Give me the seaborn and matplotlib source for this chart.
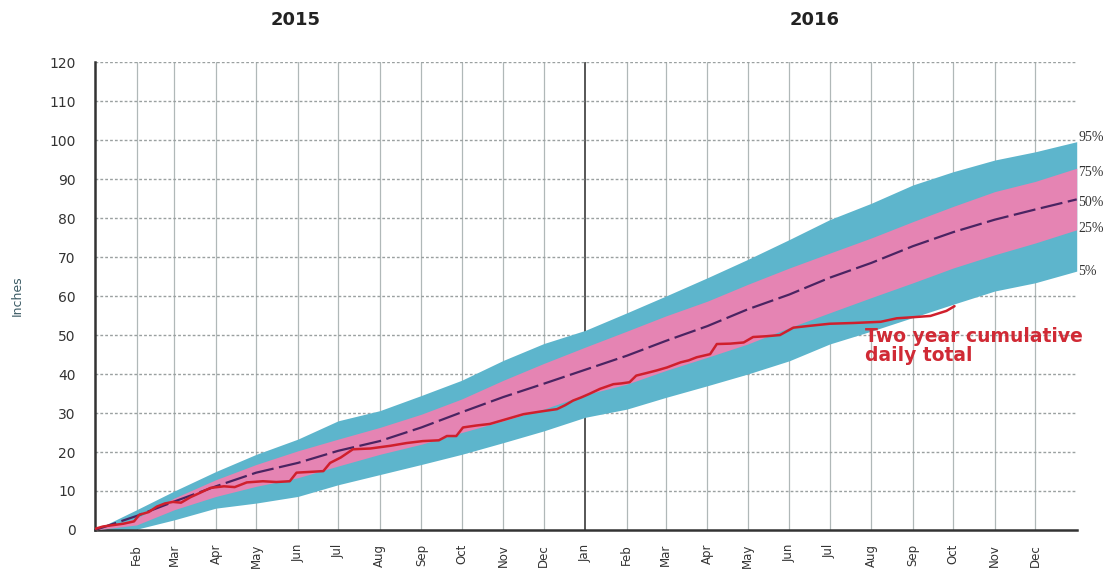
import numpy as np
import pandas as pd
import matplotlib
matplotlib.use('Agg')
import matplotlib.pyplot as plt
import seaborn as sns

# percentile envelopes, read at the first of each month (Jan 2015 .. Jan 2017)
band_dates = pd.date_range("2015-01-01", "2017-01-01", freq="MS")
p95 = [0, 5.2, 10, 15, 19.4, 23.3, 28, 30.6, 34.5, 38.4, 43.5, 47.8, 51.2,
       55.7, 60, 64.7, 69.4, 74.5, 79.6, 83.8, 88.5, 91.9, 94.9, 97, 99.6]
p75 = [0, 3, 8.2, 12.9, 16.8, 20.3, 23.3, 26.3, 29.7, 33.6, 38.4, 42.7, 46.9,
       51, 54.9, 58.7, 63, 67.2, 71, 74.9, 79.1, 83, 86.8, 89.4, 92.8]
p50 = [0, 3.6, 7.3, 11.2, 14.7, 17.2, 20.3, 22.8, 26.3, 30.2, 34.1, 37.5, 41.1,
       44.7, 48.5, 52.3, 56.6, 60.4, 64.7, 68.5, 72.8, 76.4, 79.6, 82.2, 84.8]
p25 = [0, 1.3, 5.2, 8.6, 11.2, 13.4, 16.4, 19.4, 22, 25, 28, 31, 34.7,
       37.4, 40.9, 44.3, 47.7, 51.9, 55.7, 59.6, 63.4, 67.2, 70.6, 73.6, 77]
p5 = [0, 0.2, 2.6, 5.6, 6.9, 8.6, 11.6, 14.2, 16.8, 19.4, 22.4, 25.4, 28.9,
      31, 34, 37, 40, 43.4, 47.7, 51, 54.5, 57.9, 61.3, 63.4, 66.4]
pct_labels = ["95%", "75%", "50%", "25%", "5%"]

# observed two-year cumulative total (days since 1 Jan 2015, inches)
obs_day = [0, 6, 21, 29, 33, 40, 46, 52, 58, 64, 71, 78, 86, 96, 104, 113, 125,
           135, 145, 150, 160, 170, 175, 183, 192, 205, 220, 232, 244, 256, 262,
           269, 274, 284, 294, 306, 319, 332, 344, 350, 356, 362, 368, 376, 386,
           392, 398, 403, 410, 418, 426, 436, 442, 448, 458, 463, 473, 483, 490,
           500, 510, 520, 533, 547, 565, 585, 597, 610, 622, 634, 640]
obs_inches = [0.3, 0.9, 1.6, 2.2, 3.9, 4.6, 6, 6.8, 7.2, 7.0, 8.4, 9.5, 10.8, 11.2,
              11.0, 12.2, 12.5, 12.3, 12.5, 14.7, 14.9, 15.1, 17.2, 18.6, 20.7,
              20.9, 21.6, 22.3, 22.8, 23.0, 24.1, 24.1, 26.3, 26.8, 27.2, 28.4,
              29.7, 30.4, 31, 32.0, 33.2, 34.0, 34.9, 36.2, 37.4, 37.6, 37.9, 39.6,
              40.2, 40.9, 41.7, 43, 43.5, 44.3, 45.1, 47.7, 47.8, 48.1, 49.5, 49.7,
              50, 51.9, 52.4, 52.9, 53.1, 53.4, 54.3, 54.6, 54.9, 56.2, 57.4]
years = ["2015", "2016"]

start = pd.Timestamp("2015-01-01")
obs = pd.DataFrame({"date": start + pd.to_timedelta(obs_day, unit="D"),
                    "inches": obs_inches})
bands = pd.DataFrame({"date": band_dates, "p95": p95, "p75": p75,
                      "p50": p50, "p25": p25, "p5": p5})

sns.set_style("white")
fig = plt.figure(figsize=(11.13, 5.74), dpi=100)
ax = fig.add_axes([0.0854, 0.0767, 0.882, 0.815])

blue = "#5db5cc"
pink = "#e584b3"
ax.fill_between(bands["date"], bands["p5"], bands["p95"], color=blue, lw=0, zorder=2)
ax.fill_between(bands["date"], bands["p25"], bands["p75"], color=pink, lw=0, zorder=3)
sns.lineplot(data=bands, x="date", y="p50", ax=ax, color="#4a2462", lw=1.6,
             zorder=4)
ax.lines[-1].set_dashes([10, 2.5])
sns.lineplot(data=obs, x="date", y="inches", ax=ax, color="#d01f2c", lw=1.8,
             zorder=5)

end = pd.Timestamp("2017-01-01")
ax.set_xlim(start, end)
ax.set_ylim(0, 120)

# month ticks
ticks = pd.date_range("2015-02-01", "2016-12-01", freq="MS")
ax.set_xticks(ticks)
ax.set_xticklabels([t.strftime("%b") for t in ticks], rotation=90,
                   fontsize=8.5, color="#333333")
ax.set_yticks(np.arange(0, 121, 10))
ax.set_yticklabels([str(v) for v in range(0, 121, 10)], fontsize=10,
                   color="#333333", fontweight="medium")
ax.tick_params(axis="y", length=8, width=1.6, color="#333333", pad=6)
ax.tick_params(axis="x", length=6, width=1.2, color="#333333", pad=4)

for t in ticks:
    if t == pd.Timestamp("2016-01-01"):
        ax.axvline(t, color="#3a3a3a", lw=1.2, zorder=1)
    else:
        ax.axvline(t, color="#b0b8b8", lw=0.9, zorder=1)
for v in range(10, 121, 10):
    ax.axhline(v, color="#9aa0a0", lw=1.0, ls=(0, (2, 1.5)), zorder=1)

sns.despine(ax=ax)
ax.spines["left"].set_linewidth(1.8)
ax.spines["bottom"].set_linewidth(1.8)
ax.spines["left"].set_color("#333333")
ax.spines["bottom"].set_color("#333333")

ax.set_xlabel("")
ax.set_ylabel("Inches", fontsize=9, color="#3d5c66", labelpad=18)

# percentile labels at the right edge
for lab, col, dy in zip(pct_labels, ["p95", "p75", "p50", "p25", "p5"],
                        [1.0, -1.0, -0.7, 0.4, 0]):
    ax.text(end + pd.Timedelta(days=1), bands[col].iloc[-1] + dy, lab,
            fontsize=10, family="Liberation Serif", color="#333333",
            va="center", ha="left", clip_on=False)

ax.text(pd.Timestamp("2016-07-27"), 52.0, "Two year cumulative\ndaily total",
        color="#d02a35", fontsize=13.5, fontweight="bold", va="top",
        ha="left", linespacing=0.95, clip_on=False)

for yr, xf in zip(years, [0.204, 0.733]):
    ax.text(xf, 1.09, yr, transform=ax.transAxes, fontsize=13,
            fontweight="heavy", color="#222222", ha="center", va="center")

fig.savefig("out.png", dpi=100)
